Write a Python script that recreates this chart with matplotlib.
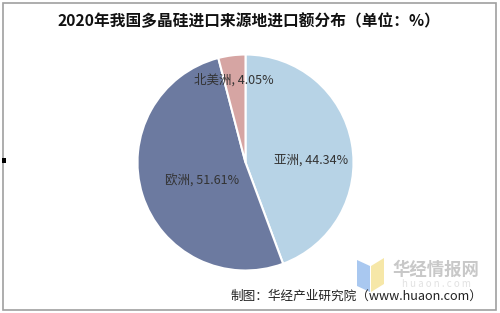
import matplotlib.pyplot as plt
from matplotlib.patches import Rectangle, Polygon

plt.rcParams["font.family"] = ["Noto Sans CJK SC", "DejaVu Sans"]

regions = ["亚洲", "欧洲", "北美洲"]
shares = [44.34, 51.61, 4.05]
slice_colors = ["#b7d3e6", "#6c7aa0", "#d6a5a3"]
# label offsets from the pie centre, in pie radii
label_pos = [(0.61, 0.02), (-0.40, -0.17), (-0.11, 0.76)]

W, H = 500, 313
fig = plt.figure(figsize=(W / 100, H / 100), dpi=100)

# outer frame
fig.patches.append(Rectangle((3 / W, 3 / H), 493 / W, 307 / H, transform=fig.transFigure,
                             fill=False, ec="#a0a0a0", lw=1.2))
fig.patches.append(Rectangle((2 / W, 150 / H), 4 / W, 5 / H, transform=fig.transFigure,
                             fc="black", ec="none"))

cx, cy, r = 245.5, 162.5, 108
ax = fig.add_axes([(cx - r) / W, (H - cy - r) / H, 2 * r / W, 2 * r / H])
ax.pie(shares, colors=slice_colors, startangle=90, counterclock=False,
       wedgeprops=dict(edgecolor="white", linewidth=1.5))
ax.set_xlim(-1, 1)
ax.set_ylim(-1, 1)
ax.set_aspect("equal")
ax.axis("off")

for name, val, (lx, ly) in zip(regions, shares, label_pos):
    ax.text(lx, ly, f"{name}, {val:.2f}%", ha="center", va="center",
            fontsize=9, color="#333333")

fig.text(249 / W, 1 - 21 / H, "2020年我国多晶硅进口来源地进口额分布（单位：%）",
         ha="center", va="center", fontsize=11.3, fontweight="bold", color="#111111")

# watermark
fig.patches.append(Polygon([(357 / W, 1 - 260 / H), (370 / W, 1 - 266 / H),
                            (370 / W, 1 - 292 / H), (357 / W, 1 - 286 / H)],
                           closed=True, transform=fig.transFigure, fc="#a9c8f0", ec="none"))
fig.patches.append(Polygon([(371 / W, 1 - 266 / H), (384 / W, 1 - 258 / H),
                            (384 / W, 1 - 284 / H), (371 / W, 1 - 292 / H)],
                           closed=True, transform=fig.transFigure, fc="#f6e7a8", ec="none"))
fig.text(436 / W, 1 - 270 / H, "华经情报网", ha="center", va="center",
         fontsize=12.5, color="#c8c8c8", fontweight="bold")
fig.text(436 / W, 1 - 284 / H, "h u a o n . c o m", ha="center", va="center",
         fontsize=7, color="#e2e2e2")

fig.text(356 / W, 1 - 296 / H, "制图：华经产业研究院（www.huaon.com）",
         ha="center", va="center", fontsize=9.1, color="#222222")

fig.savefig("out.png", dpi=100)
